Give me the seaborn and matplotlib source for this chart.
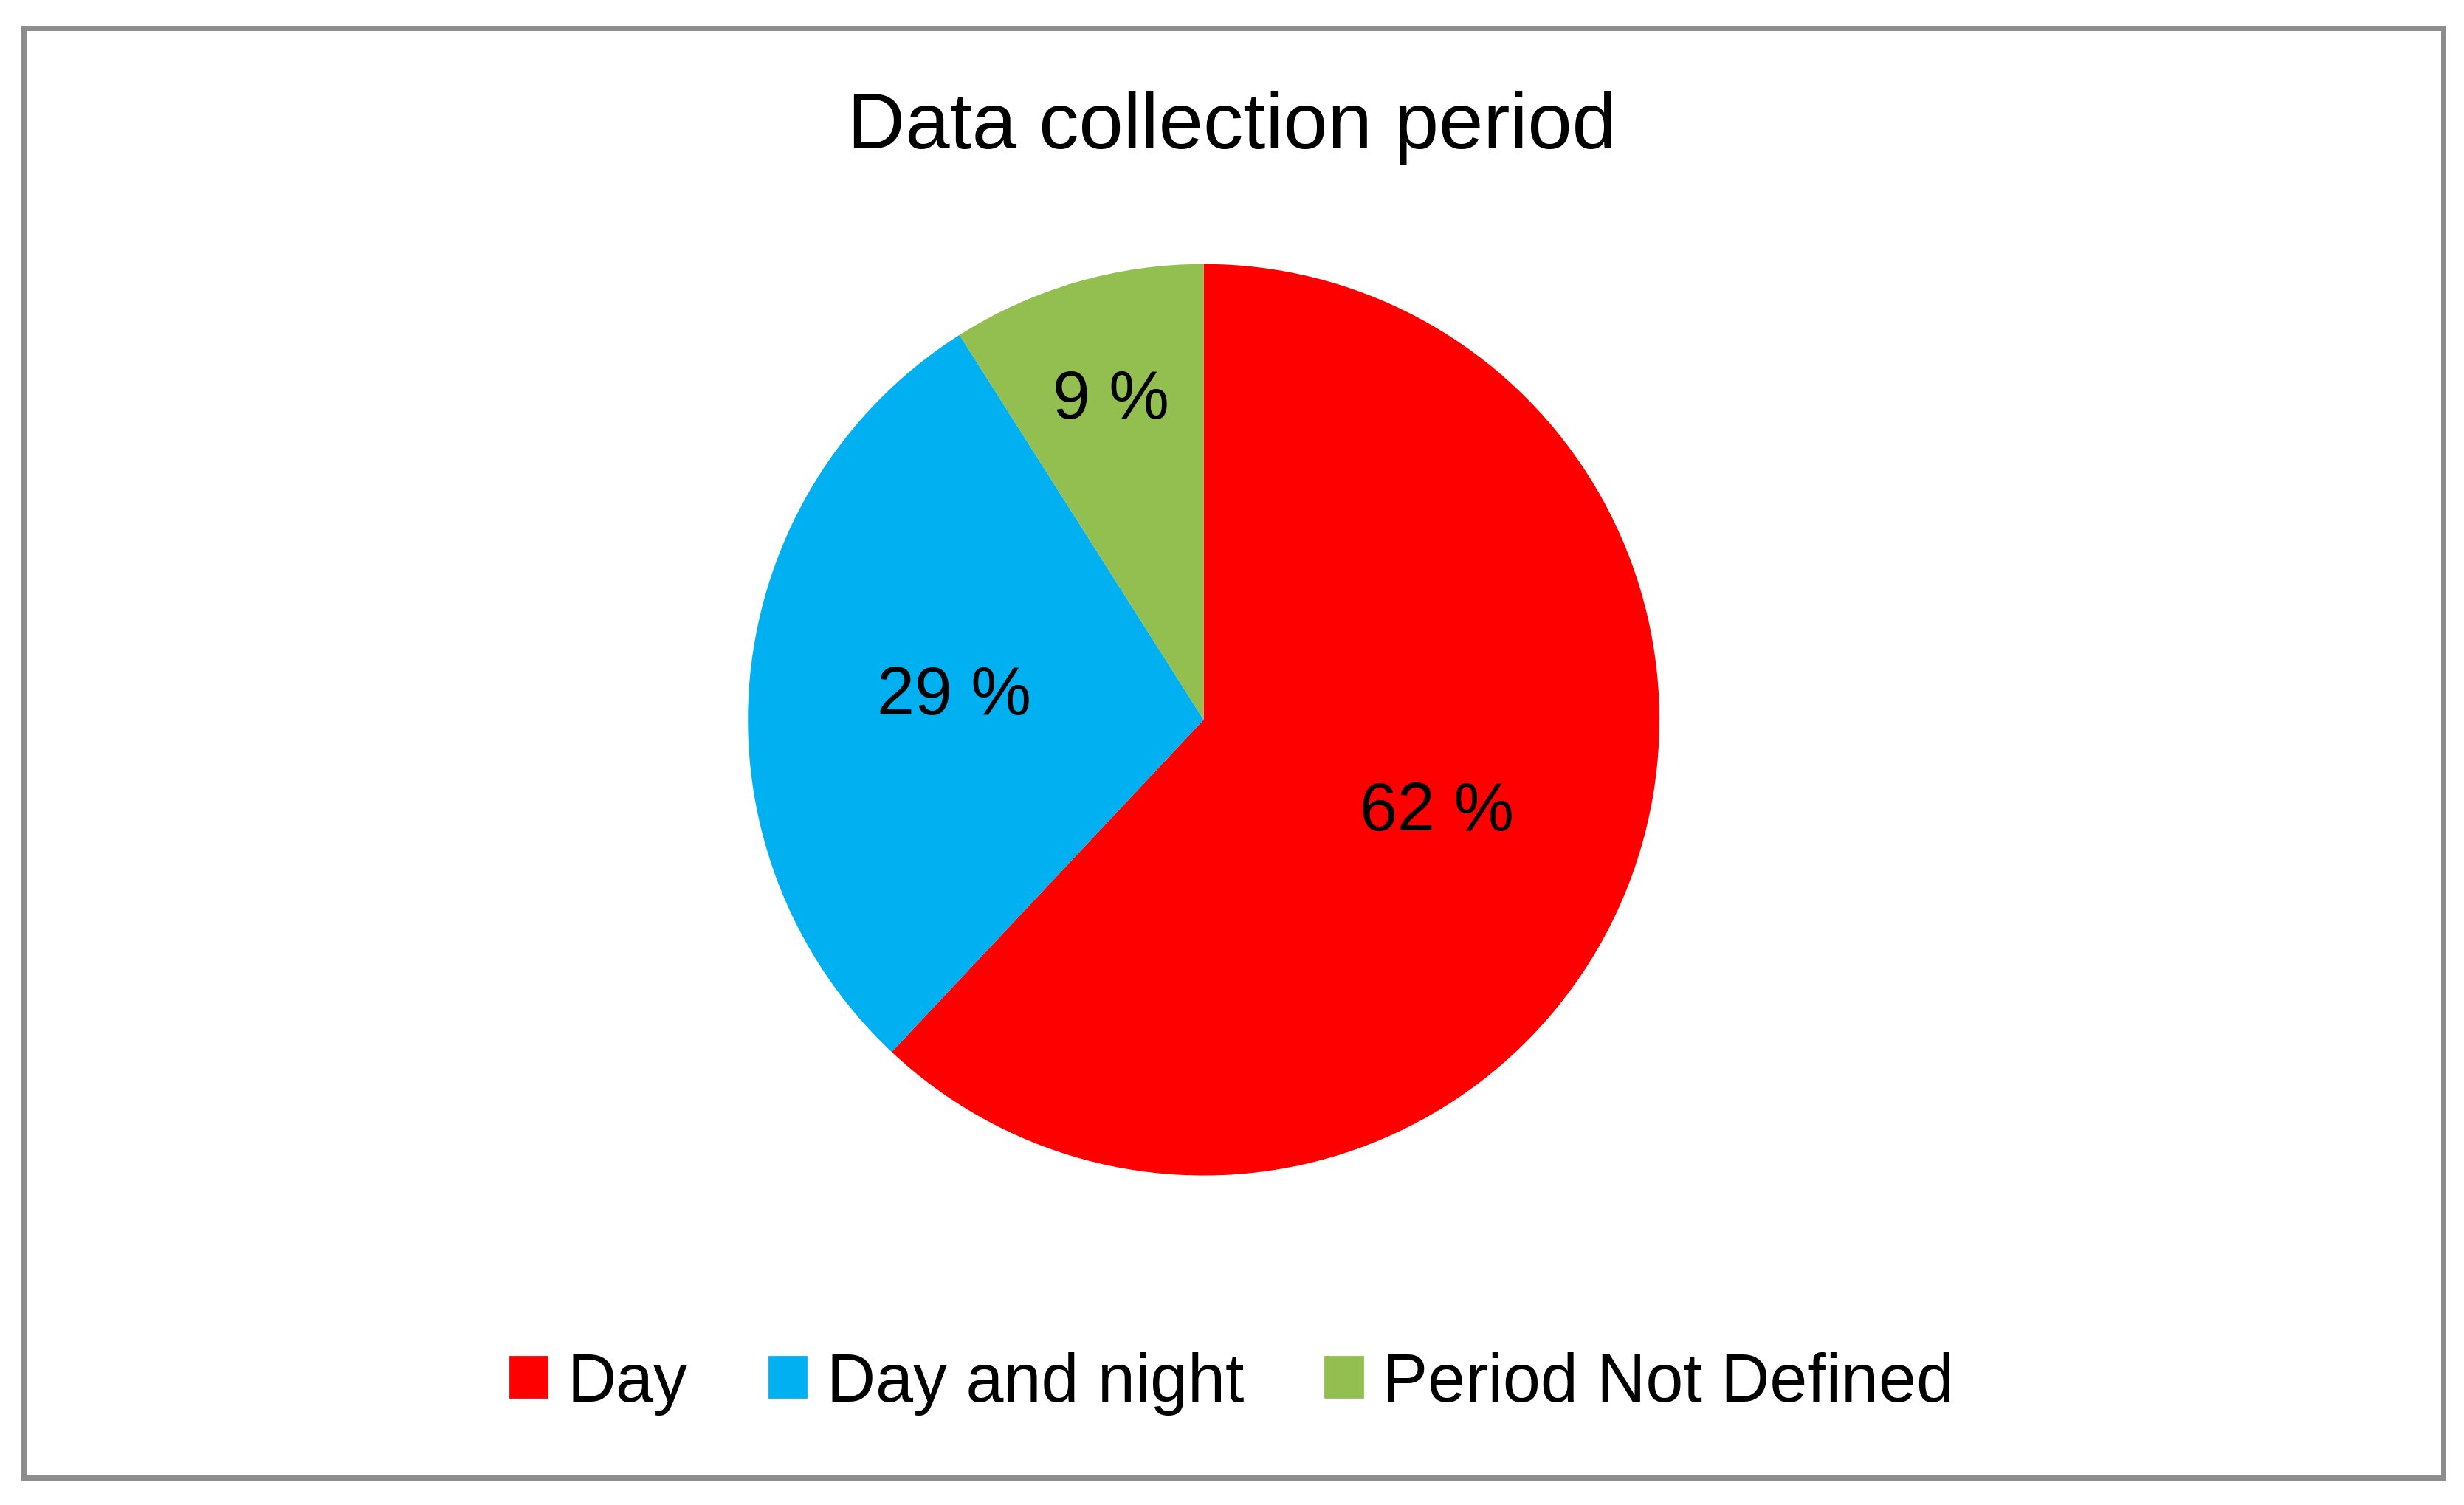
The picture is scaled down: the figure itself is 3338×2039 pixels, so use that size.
import matplotlib
matplotlib.use("Agg")
import matplotlib.pyplot as plt
import matplotlib.patches as mpatches
import seaborn as sns

categories = ["Day", "Day and night", "Period Not Defined"]
shares = [62, 29, 9]
colors = ["#FF0000", "#00B0F0", "#92BF4F"]

sns.set_theme(style="white")
plt.rcParams['font.family'] = ['Liberation Sans', 'DejaVu Sans']

fig = plt.figure(figsize=(16.69, 10.2), dpi=200)
fig.patches.append(mpatches.Rectangle((0.0096, 0.018), 0.982, 0.963, transform=fig.transFigure,
                                      fill=False, edgecolor="#8C8C8C", linewidth=2.5))

ax = fig.add_axes([0.305, 0.221, 0.367, 0.601])
wedges, texts, autotexts = ax.pie(shares, colors=colors, startangle=90, counterclock=False,
                                  radius=1.26, wedgeprops={'linewidth': 0},
                                  autopct=lambda p: '{:.0f} %'.format(p), pctdistance=0.55,
                                  textprops={'fontsize': 33, 'color': 'black'})
# small slice label sits further out
x, y = autotexts[2].get_position()
autotexts[2].set_position((x / 0.55 * 0.73, y / 0.55 * 0.73))
ax.set_aspect('equal')

fig.text(0.5, 0.915, "Data collection period", ha='center', va='center', fontsize=39, color='black')

handles = [mpatches.Patch(color=c, label=l) for c, l in zip(colors, categories)]
leg = fig.legend(handles=handles, loc='center', bbox_to_anchor=(0.5, 0.081), ncol=3, frameon=False,
                 fontsize=33, handlelength=0.55, handleheight=0.55, handletextpad=0.3, columnspacing=1.2)
for t in leg.get_texts():
    t.set_color('black')

fig.savefig("out.png", dpi=200)
